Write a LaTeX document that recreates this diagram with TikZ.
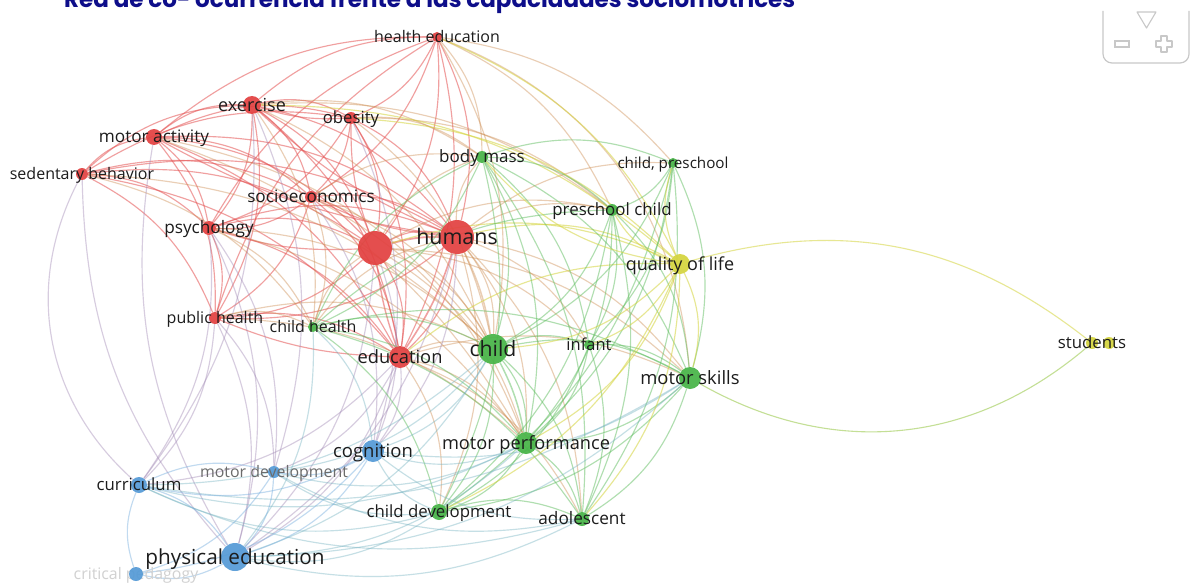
\documentclass[tikz,border=0pt]{standalone}
\usepackage{fontspec}
\setmainfont{Open Sans}
\newfontfamily\titlefont{Poppins}
\usetikzlibrary{calc}
\pgfdeclarelayer{bglayer}
\pgfdeclarelayer{edgelayer}
\pgfdeclarelayer{labellayer}
\pgfsetlayers{bglayer,edgelayer,main,labellayer}
\definecolor{vred}{RGB}{226,64,64}
\definecolor{vgreen}{RGB}{70,180,70}
\definecolor{vblue}{RGB}{84,154,214}
\definecolor{vyellow}{RGB}{212,212,60}
\definecolor{eorange}{RGB}{205,140,80}
\definecolor{epurple}{RGB}{160,135,180}
\definecolor{eteal}{RGB}{110,175,190}
\definecolor{titleblue}{RGB}{14,14,138}
\definecolor{icongrey}{RGB}{200,200,200}
\definecolor{labelgrey}{RGB}{28,28,28}
\tikzset{
  vnode/.style={circle, inner sep=0pt, draw=none, fill opacity=0.92},
  vlabel/.style={anchor=base, inner sep=0pt, text=labelgrey},
  edgebase/.style={line width=1.15pt, draw opacity=0.45, bend left=20},
  er/.style={edgebase, draw=vred!90, draw opacity=0.55},
  eo/.style={edgebase, draw=eorange, draw opacity=0.42},
  ep/.style={edgebase, draw=epurple, draw opacity=0.42},
  eg/.style={edgebase, draw=vgreen!85, draw opacity=0.5},
  eb/.style={edgebase, draw=vblue!80},
  et/.style={edgebase, draw=eteal, draw opacity=0.4},
  ey/.style={edgebase, draw=vyellow, draw opacity=0.55},
}
\newcommand\vosnode[7]{%
  \node[vnode, fill=#5, minimum size=2*#4] (#1) at (#2,-#3) {};
  \begin{pgfonlayer}{labellayer}
  \node[vlabel, font=\fontsize{#6}{#6}\selectfont, yshift={-0.34*#6}] (#1l) at (#1) {#7};
  \end{pgfonlayer}}
\begin{document}
\begin{tikzpicture}[x=1pt, y=1pt]
\begin{pgfonlayer}{bglayer}
\fill[white] (0,0) rectangle (1193,-583);
\end{pgfonlayer}
\useasboundingbox (0,0) rectangle (1193,-583);

% title (cut off at the top)
\node[anchor=base west, inner sep=0pt, text=titleblue] (title) at (64,-7.5)
  {\resizebox{731pt}{!}{\titlefont\bfseries\fontsize{20}{24}\selectfont Red de co- ocurrencia frente a las capacidades sociomotrices}};

% navigation icon
\draw[icongrey, line width=1.2pt, rounded corners=9pt] (1103,-11) -- (1103,-63) -- (1189,-63) -- (1189,-11);
\draw[icongrey, line width=1.1pt, line join=round] (1137,-12) -- (1156,-12) -- (1146.5,-28) -- cycle;
\draw[icongrey, line width=1.1pt] (1115,-41) rectangle (1129,-47);
\draw[icongrey, line width=1.1pt, line join=round]
  (1161,-36) -- (1167,-36) -- (1167,-41) -- (1172,-41) -- (1172,-47) -- (1167,-47) -- (1167,-52)
  -- (1161,-52) -- (1161,-47) -- (1156,-47) -- (1156,-41) -- (1161,-41) -- cycle;

% critical pedagogy: faded label lies beneath its node
\node[vlabel, text=black!18, font=\fontsize{15.9}{15.9}\selectfont, yshift={-0.34*15.9}] (cpdl) at (136,-574) {critical pedagogy};
\node[vnode, fill=vblue, minimum size=14] (cpd) at (136,-574) {};

% red cluster
\vosnode{he}{437}{37}{5}{vred}{16}{health education}
\vosnode{ex}{252}{105}{9}{vred}{18}{exercise}
\vosnode{ob}{351}{118}{6}{vred}{16.7}{obesity}
\vosnode{ma}{154}{137}{8}{vred}{17.2}{motor activity}
\vosnode{sb}{82}{174}{6}{vred}{16}{sedentary behavior}
\vosnode{se}{311}{197}{6}{vred}{17.2}{socioeconomics}
\vosnode{ps}{209}{228}{7}{vred}{17.2}{psychology}
\node[vnode, fill=vred, minimum size=34] (rz) at (375,-248) {};
\vosnode{hu}{457}{237}{17}{vred}{21.4}{humans}
\vosnode{ph}{215}{318}{6}{vred}{16}{public health}
\vosnode{ed}{400}{357}{11}{vred}{18.3}{education}
% green cluster
\vosnode{bm}{482}{157}{6}{vgreen}{17}{body mass}
\vosnode{cp}{673}{163}{5}{vgreen}{15.2}{child, preschool}
\vosnode{pc}{612}{210}{6}{vgreen}{16.9}{preschool child}
\vosnode{ch}{313}{327}{5}{vgreen}{16}{child health}
\vosnode{cd}{493}{349}{15}{vgreen}{21.2}{child}
\vosnode{in}{589}{345}{5}{vgreen}{16.5}{infant}
\vosnode{ms}{690}{378}{11}{vgreen}{18.4}{motor skills}
\vosnode{mp}{526}{443}{11}{vgreen}{18.2}{motor performance}
\vosnode{cdv}{439}{512}{8}{vgreen}{16.8}{child development}
\vosnode{ad}{582}{519}{7}{vgreen}{17.2}{adolescent}
% yellow cluster
\vosnode{ql}{680}{264}{10}{vyellow}{18}{quality of life}
\node[vnode, fill=vyellow, minimum size=12] (stb) at (1109,-343) {};
\vosnode{st}{1092}{343}{6}{vyellow}{16.8}{students}
% blue cluster
\vosnode{co}{373}{451}{11}{vblue}{18.5}{cognition}
\vosnode{cu}{139}{485}{8}{vblue}{16.8}{curriculum}
\vosnode{pe}{235}{557}{14}{vblue}{20.7}{physical education}
\node[vnode, fill=vblue, minimum size=12] (md) at (274,-472) {};
\begin{pgfonlayer}{labellayer}
\node[vlabel, text=black!58, font=\fontsize{15.9}{15.9}\selectfont, yshift={-0.34*15.9}] (mdl) at (md) {motor development};
\end{pgfonlayer}

\begin{pgfonlayer}{edgelayer}
% red - red
\foreach \a/\b in {ex/he, ma/he, he/ob, he/hu, he/rz, he/se, ps/he, he/ed, ph/he,
  ex/ob, ma/ex, sb/ex, ex/se, ex/ps, ex/rz, ex/hu, ex/ed, ex/ph,
  ma/ob, sb/ob, ob/se, ob/ps, ob/rz, ob/hu, ob/ed,
  sb/ma, ma/se, ma/ps, ma/rz, ma/hu, ma/ph, ma/ed,
  sb/ps, sb/se, sb/rz, sb/hu, sb/ph, sb/ed,
  se/ps, se/rz, se/hu, se/ed, se/ph,
  ps/rz, ps/hu, ps/ph, ps/ed, rz/hu, rz/ed, rz/ph, hu/ed, hu/ph, ph/ed}
  \draw[er] (\a) to (\b);
\foreach \a/\b in {hu/ex, rz/ob, hu/ma, rz/ps, ed/ph, hu/se, ob/ex}
  \draw[er, bend left=10] (\a) to (\b);
\draw[er, line width=1.8pt] (rz) to[bend left=8] (hu);
\draw[er, line width=1.6pt] (hu) to[bend left=8] (ed);
\draw[er, line width=1.4pt] (rz) to[bend right=6] (ed);
% red - green
\foreach \a/\b in {hu/bm, hu/cd, hu/pc, hu/cp, hu/in, hu/ms, hu/mp, ch/hu, hu/cdv, hu/ad,
  rz/bm, rz/cd, rz/mp, ch/rz, rz/ms, rz/pc, ed/cd, ed/mp, ed/cdv, ed/ms,
  ex/bm, ex/cd, ob/bm, se/bm, se/cd, ps/cd, ph/ch, ph/cd, sb/ch, ma/cd,
  he/pc, he/cp, he/bm, ob/pc, ex/pc, ed/ad, rz/in,
  ob/cd, se/mp, ps/mp, ph/mp, ma/mp, sb/cd, ex/ch, ps/ch, se/ch, he/cd}
  \draw[eo] (\a) to (\b);
\draw[eo, bend left=32] (he) to (ms);
\draw[eo, line width=1.5pt, bend left=8] (hu) to (cd);
% red - yellow
\foreach \a/\b in {hu/ql, rz/ql, ed/ql, ex/ql, he/ql, ob/ql}
  \draw[ey] (\a) to (\b);
% red - blue
\foreach \a/\b in {ph/pe, ph/cu, ph/md, ed/co, ed/pe, ed/cu, ed/md, hu/co, hu/pe, rz/co,
  rz/pe, ps/pe, pe/sb, pe/ma, ex/cu, ps/cu, se/co, ob/co, ps/md, ex/md}
  \draw[ep] (\a) to (\b);
\draw[ep, bend left=38] (cu) to (sb);
% green - green
\foreach \a/\b in {bm/cp, bm/pc, bm/cd, bm/in, bm/ms, bm/mp, bm/ch, bm/ad, cp/pc, cp/cd,
  cp/ms, cp/mp, cp/in, cp/ad, cp/cdv, pc/cd, pc/in, pc/ms, pc/mp, pc/ad, pc/cdv,
  ch/cd, ch/mp, ch/cdv, ch/ms, cd/in, cd/ms, cd/mp, cd/cdv, cd/ad, in/ms, in/mp,
  in/ad, in/cdv, ms/mp, ms/cdv, ms/ad, mp/cdv, mp/ad, cdv/ad, bm/cdv,
  ch/ad, ch/pc, ch/bm}
  \draw[eg] (\a) to (\b);
\draw[eg, bend left=8, line width=1.5pt] (cd) to (mp);
% green - blue
\foreach \a/\b in {mp/co, ms/pe, mp/pe, mp/cu, mp/md, cdv/co, cdv/pe, cdv/md, ms/co, ms/cu,
  cd/co, cd/pe, cd/md, cd/cu, ad/pe, ad/co, ch/co, ch/pe, ad/cu, cdv/cu, ad/md}
  \draw[et] (\a) to (\b);
% blue - blue
\foreach \a/\b in {co/cu, co/md, co/pe, cu/md, cu/pe, cpd/cu, md/pe, pe/cpd, co/cpd, md/cpd}
  \draw[eb] (\a) to (\b);
% yellow
\foreach \a/\b in {ql/pc, ql/cp, ql/cd, ql/ms, ql/mp, ql/bm, ql/ad, ql/in, ql/cdv}
  \draw[ey] (\a) to (\b);
\draw[ey, line width=1.1pt] (ql) to[bend left=27] (st);
\draw[ey, draw=vyellow!55!vgreen, line width=1.1pt] (st) to[bend left=35] (ms);
\end{pgfonlayer}
\end{tikzpicture}
\end{document}
